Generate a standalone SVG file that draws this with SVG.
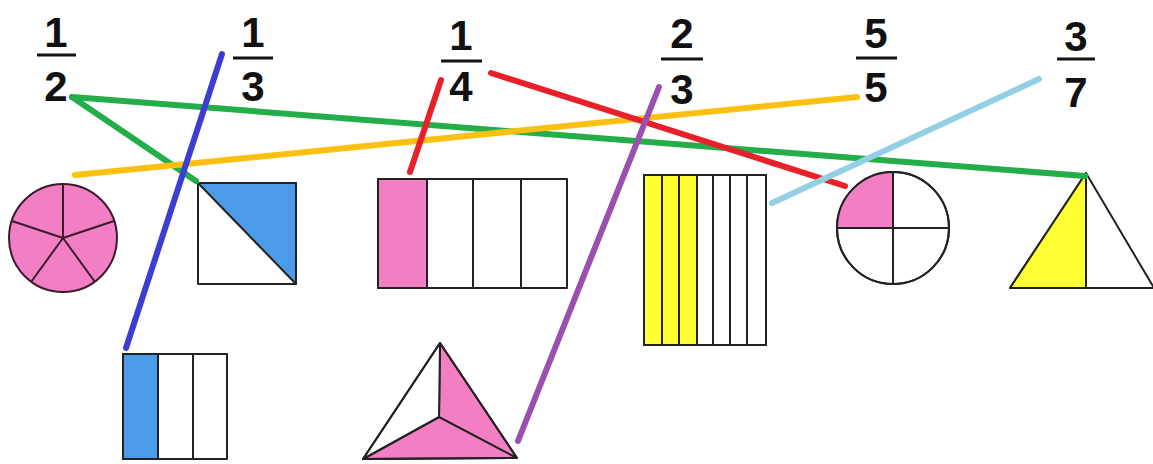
<svg xmlns="http://www.w3.org/2000/svg" width="1153" height="464" viewBox="0 0 1153 464">
<style>
.num{font-family:"Liberation Sans",Arial,sans-serif;font-weight:bold;font-size:42px;fill:#111;text-anchor:middle}
.bar{stroke:#111;stroke-width:3}
.sh{stroke:#222;stroke-width:2;stroke-linejoin:round}
.pink{fill:#f27ec4}
.blue{fill:#4b9be8}
.yel{fill:#ffff33}
.wht{fill:#fff}
.ln{stroke-width:6;stroke-linecap:round;fill:none}
</style>
<rect width="1153" height="464" fill="#fff"/>
<g id="frac-1-2"><text class="num" x="56" y="47">1</text><line class="bar" x1="37" y1="55" x2="76" y2="55"/><text class="num" x="56" y="101">2</text></g>
<g id="frac-1-3"><text class="num" x="253" y="47">1</text><line class="bar" x1="233" y1="58" x2="273" y2="58"/><text class="num" x="253" y="101">3</text></g>
<g id="frac-1-4"><text class="num" x="461" y="50">1</text><line class="bar" x1="441" y1="61" x2="482" y2="61"/><text class="num" x="461" y="101">4</text></g>
<g id="frac-2-3"><text class="num" x="682" y="48">2</text><line class="bar" x1="661" y1="59" x2="703" y2="59"/><text class="num" x="682" y="104">3</text></g>
<g id="frac-5-5"><text class="num" x="876" y="48">5</text><line class="bar" x1="856" y1="58" x2="897" y2="58"/><text class="num" x="876" y="102">5</text></g>
<g id="frac-3-7"><text class="num" x="1076" y="51">3</text><line class="bar" x1="1057" y1="59" x2="1095" y2="59"/><text class="num" x="1076" y="107">7</text></g>

<g id="circle-fifths">
<circle class="sh pink" cx="63" cy="238" r="54" style="stroke:#3b1a2e"/>
<path class="sh" style="stroke:#3b1a2e;fill:none" d="M63 238 L63 184 M63 238 L114 221 M63 238 L95 282 M63 238 L31 282 M63 238 L12 221"/>
</g>
<g id="square-half">
<rect class="sh wht" x="198" y="183" width="98" height="101"/>
<path class="sh blue" d="M198 183 L296 183 L296 284 Z"/>
</g>
<g id="rect-thirds">
<rect class="sh wht" x="123" y="354" width="104" height="105"/>
<rect class="sh blue" x="123" y="354" width="35" height="105"/>
<line class="sh" x1="193" y1="354" x2="193" y2="459"/>
</g>
<g id="rect-quarters">
<rect class="sh wht" x="378" y="179" width="189" height="109"/>
<rect class="sh pink" x="378" y="179" width="49" height="109"/>
<path class="sh" d="M473 179 V288 M521 179 V288"/>
</g>
<g id="triangle-thirds">
<path class="sh pink" d="M440 343 L517 458 L363 459 L439 417 Z"/>
<path class="sh wht" d="M440 343 L439 417 L363 459 Z"/>
<path class="sh" fill="none" d="M440 343 L517 458 L363 459 Z M439 417 L517 458"/>
</g>
<g id="rect-sevenths">
<rect class="sh wht" x="644" y="175" width="122" height="170"/>
<rect class="yel" x="645" y="176" width="52" height="168"/>
<rect class="sh" fill="none" x="644" y="175" width="122" height="170"/>
<path class="sh" d="M662 175 V345 M679 175 V345 M697 175 V345 M713 175 V345 M730 175 V345 M747 175 V345"/>
</g>
<g id="circle-quarters">
<circle class="sh wht" cx="893" cy="228" r="56"/>
<path class="pink" d="M893 228 L837 228 A56 56 0 0 1 893 172 Z"/>
<circle class="sh" fill="none" cx="893" cy="228" r="56"/>
<path class="sh" d="M837 228 H949 M893 172 V284"/>
</g>
<g id="triangle-halves">
<path class="sh wht" d="M1086 173 L1154 288 L1010 288 Z"/>
<path class="sh yel" d="M1086 173 L1086 288 L1010 288 Z"/>
</g>

<g id="connectors">
<line class="ln" stroke="#23ae4a" x1="72" y1="97" x2="1085" y2="176"/>
<line class="ln" stroke="#23ae4a" x1="72" y1="97" x2="196" y2="181"/>
<line class="ln" stroke="#fcc012" stroke-width="7" x1="75" y1="175" x2="857" y2="97"/>
<line class="ln" stroke="#3a3fd2" x1="222" y1="54" x2="126" y2="348"/>
<line class="ln" stroke="#e8202a" x1="441" y1="80" x2="410" y2="172"/>
<line class="ln" stroke="#e8202a" x1="491" y1="73" x2="845" y2="186"/>
<line class="ln" stroke="#9b4fb0" x1="659" y1="87" x2="518" y2="441"/>
<line class="ln" stroke="#93d0e6" x1="1039" y1="79" x2="772" y2="203"/>
</g>
</svg>
